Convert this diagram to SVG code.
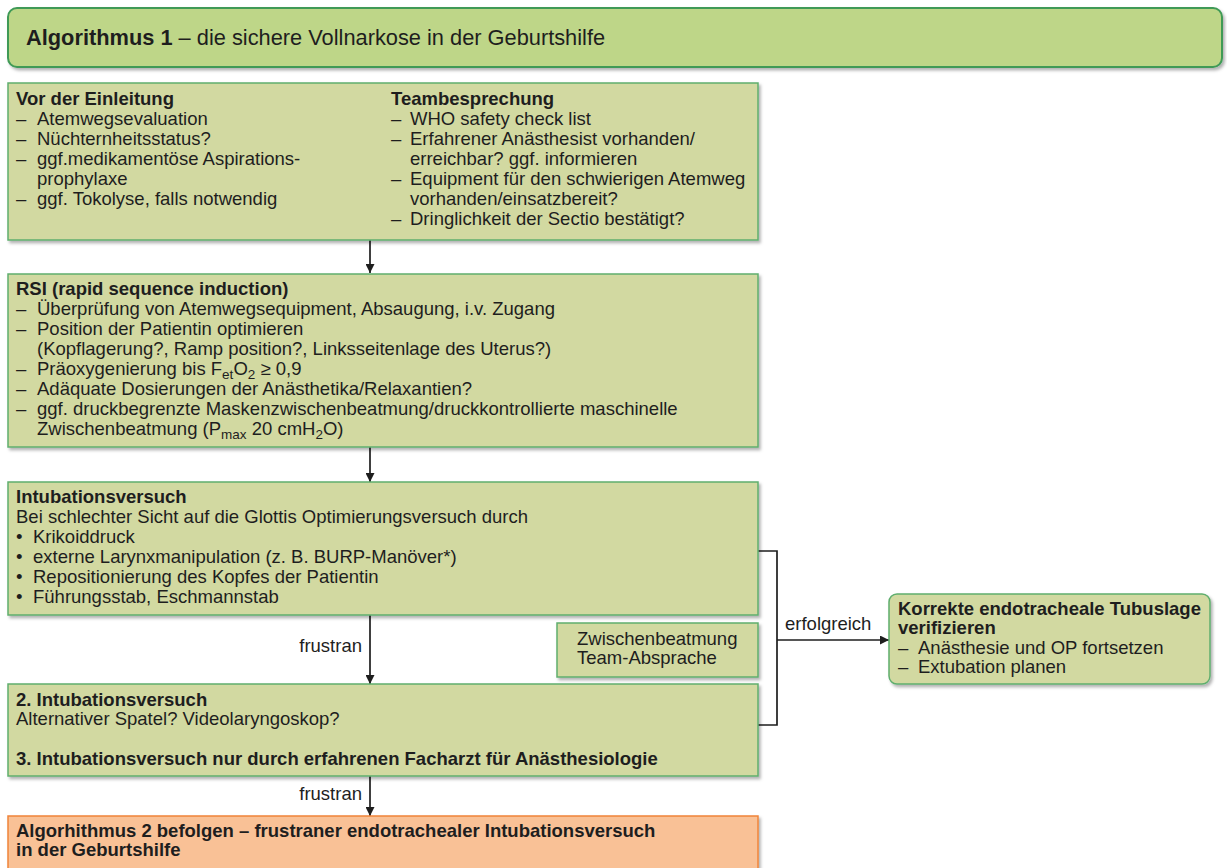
<svg xmlns="http://www.w3.org/2000/svg" width="1227" height="868" viewBox="0 0 1227 868">
<style>
text{font-family:"Liberation Sans",Arial,sans-serif;font-size:18.5px;fill:#1e1e1e;}
.b{font-weight:bold;}
.t{font-size:21.8px;}
.box{fill:#d2d9a1;stroke:#5fae6e;stroke-width:1.5;}
.title{fill:#bed688;stroke:#3f9a57;stroke-width:2;}
.orange{fill:#f9c196;stroke:#f0843a;stroke-width:1.5;}
.conn{fill:none;stroke:#1e1e1e;stroke-width:1.7;}
.sub{font-size:13.5px;}
</style>
<defs>
<filter id="sh" x="-5%" y="-5%" width="110%" height="120%">
<feDropShadow dx="2" dy="2.5" stdDeviation="1.5" flood-color="#000" flood-opacity="0.3"/>
</filter>
<marker id="ah" viewBox="0 0 10 10" refX="10" refY="5" markerWidth="9" markerHeight="9" markerUnits="userSpaceOnUse" orient="auto">
<path d="M0,0 L10,5 L0,10 z" fill="#1e1e1e"/>
</marker>
</defs>
<rect width="1227" height="868" fill="#fff"/>

<g id="title">
<rect class="title" x="8" y="8" width="1214" height="59" rx="9" filter="url(#sh)"/>
<text class="t" x="26" y="45"><tspan class="b">Algorithmus 1</tspan> – die sichere Vollnarkose in der Geburtshilfe</text>
</g>

<g id="connectors">
<path class="conn" d="M370,240 V273" marker-end="url(#ah)"/>
<path class="conn" d="M370,447 V482" marker-end="url(#ah)"/>
<path class="conn" d="M370,615 V684" marker-end="url(#ah)"/>
<path class="conn" d="M370,776 V816" marker-end="url(#ah)"/>
<path class="conn" d="M758,551 H777 V725 H758"/>
<path class="conn" d="M777,640 H889" marker-end="url(#ah)"/>
<text x="362" y="652" text-anchor="end">frustran</text>
<text x="362" y="800" text-anchor="end">frustran</text>
<text x="785" y="630">erfolgreich</text>
</g>

<g id="vor-der-einleitung">
<rect class="box" x="8" y="83" width="750" height="157" filter="url(#sh)"/>
<text class="b" x="16" y="105">Vor der Einleitung</text>
<text x="16" y="125">–</text><text x="37" y="125">Atemwegsevaluation</text>
<text x="16" y="145">–</text><text x="37" y="145">Nüchternheitsstatus?</text>
<text x="16" y="165">–</text><text x="37" y="165">ggf.medikamentöse Aspirations-</text>
<text x="37" y="185">prophylaxe</text>
<text x="16" y="205">–</text><text x="37" y="205">ggf. Tokolyse, falls notwendig</text>
<text class="b" x="391" y="105">Teambesprechung</text>
<text x="391" y="125">–</text><text x="410" y="125">WHO safety check list</text>
<text x="391" y="145">–</text><text x="410" y="145">Erfahrener Anästhesist vorhanden/</text>
<text x="410" y="165">erreichbar? ggf. informieren</text>
<text x="391" y="185">–</text><text x="410" y="185">Equipment für den schwierigen Atemweg</text>
<text x="410" y="205">vorhanden/einsatzbereit?</text>
<text x="391" y="225">–</text><text x="410" y="225">Dringlichkeit der Sectio bestätigt?</text>
</g>

<g id="rsi">
<rect class="box" x="8" y="274" width="750" height="173" filter="url(#sh)"/>
<text class="b" x="16" y="295">RSI (rapid sequence induction)</text>
<text x="16" y="315">–</text><text x="37" y="315">Überprüfung von Atemwegsequipment, Absaugung, i.v. Zugang</text>
<text x="16" y="335">–</text><text x="37" y="335">Position der Patientin optimieren</text>
<text x="37" y="355">(Kopflagerung?, Ramp position?, Linksseitenlage des Uterus?)</text>
<text x="16" y="375">–</text><text x="37" y="375">Präoxygenierung bis F<tspan class="sub" baseline-shift="-4">et</tspan>O<tspan class="sub" baseline-shift="-4">2</tspan> ≥ 0,9</text>
<text x="16" y="395">–</text><text x="37" y="395">Adäquate Dosierungen der Anästhetika/Relaxantien?</text>
<text x="16" y="415">–</text><text x="37" y="415">ggf. druckbegrenzte Maskenzwischenbeatmung/druckkontrollierte maschinelle</text>
<text x="37" y="435">Zwischenbeatmung (P<tspan class="sub" baseline-shift="-4">max</tspan> 20 cmH<tspan class="sub" baseline-shift="-4">2</tspan>O)</text>
</g>

<g id="intubationsversuch">
<rect class="box" x="8" y="482" width="750" height="133" filter="url(#sh)"/>
<text class="b" x="16" y="503">Intubationsversuch</text>
<text x="16" y="523">Bei schlechter Sicht auf die Glottis Optimierungsversuch durch</text>
<text x="16" y="543">•</text><text x="33" y="543">Krikoiddruck</text>
<text x="16" y="563">•</text><text x="33" y="563">externe Larynxmanipulation (z. B. BURP-Manöver*)</text>
<text x="16" y="583">•</text><text x="33" y="583">Repositionierung des Kopfes der Patientin</text>
<text x="16" y="603">•</text><text x="33" y="603">Führungsstab, Eschmannstab</text>
</g>

<g id="zwischenbeatmung">
<rect class="box" x="557" y="623" width="201" height="54" filter="url(#sh)"/>
<text x="577" y="645">Zwischenbeatmung</text>
<text x="577" y="664">Team-Absprache</text>
</g>

<g id="intubationsversuch-2">
<rect class="box" x="8" y="684" width="750" height="92" filter="url(#sh)"/>
<text class="b" x="16" y="706">2. Intubationsversuch</text>
<text x="16" y="725">Alternativer Spatel? Videolaryngoskop?</text>
<text class="b" x="16" y="765">3. Intubationsversuch nur durch erfahrenen Facharzt für Anästhesiologie</text>
</g>

<g id="algorithmus-2">
<rect class="orange" x="8" y="816" width="750" height="70" filter="url(#sh)"/>
<text class="b" x="16" y="837">Algorhithmus 2 befolgen – frustraner endotrachealer Intubationsversuch</text>
<text class="b" x="16" y="856">in der Geburtshilfe</text>
</g>

<g id="tubuslage">
<rect class="box" x="889" y="594" width="321" height="90" rx="8" filter="url(#sh)"/>
<text class="b" x="898" y="615">Korrekte endotracheale Tubuslage</text>
<text class="b" x="898" y="634">verifizieren</text>
<text x="898" y="654">–</text><text x="918" y="654">Anästhesie und OP fortsetzen</text>
<text x="898" y="673">–</text><text x="918" y="673">Extubation planen</text>
</g>
</svg>
